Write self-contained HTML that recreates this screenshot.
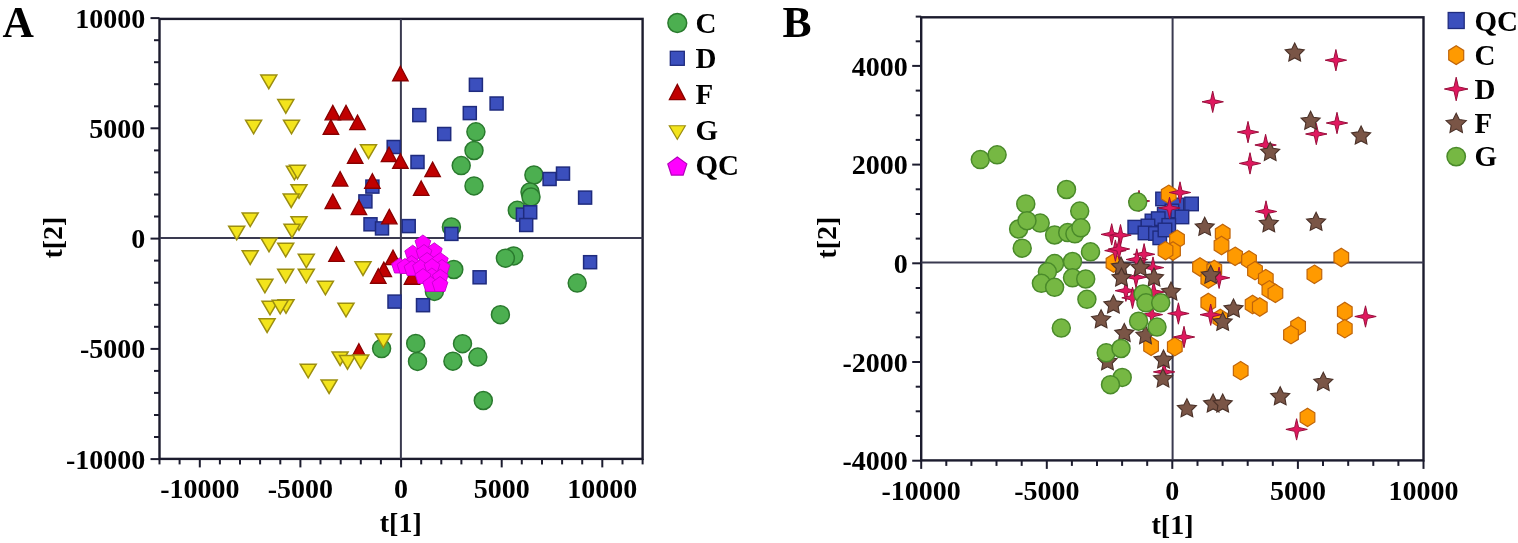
<!DOCTYPE html>
<html><head><meta charset="utf-8"><title>Score plots</title>
<style>html,body{margin:0;padding:0;background:#fff;}body{width:1518px;height:543px;overflow:hidden;}svg{display:block;}</style>
</head><body>
<svg width="1518" height="543" viewBox="0 0 1518 543">
<rect width="1518" height="543" fill="#fff"/>
<g stroke="#1c1c2e" fill="none" stroke-linecap="butt">
<rect x="159.5" y="18.9" width="483.1" height="440.0" stroke-width="2.4"/>
<line x1="400.9" y1="18.9" x2="400.9" y2="458.9" stroke-width="2" stroke="#3a3a50"/>
<line x1="159.5" y1="238.1" x2="642.6" y2="238.1" stroke-width="2" stroke="#3a3a50"/>
<line x1="159.5" y1="458.9" x2="159.5" y2="464.4" stroke-width="2"/>
<line x1="179.6" y1="458.9" x2="179.6" y2="464.4" stroke-width="2"/>
<line x1="199.8" y1="458.9" x2="199.8" y2="467.4" stroke-width="2"/>
<line x1="219.9" y1="458.9" x2="219.9" y2="464.4" stroke-width="2"/>
<line x1="240.0" y1="458.9" x2="240.0" y2="464.4" stroke-width="2"/>
<line x1="260.1" y1="458.9" x2="260.1" y2="464.4" stroke-width="2"/>
<line x1="280.3" y1="458.9" x2="280.3" y2="464.4" stroke-width="2"/>
<line x1="300.4" y1="458.9" x2="300.4" y2="467.4" stroke-width="2"/>
<line x1="320.5" y1="458.9" x2="320.5" y2="464.4" stroke-width="2"/>
<line x1="340.7" y1="458.9" x2="340.7" y2="464.4" stroke-width="2"/>
<line x1="360.8" y1="458.9" x2="360.8" y2="464.4" stroke-width="2"/>
<line x1="380.9" y1="458.9" x2="380.9" y2="464.4" stroke-width="2"/>
<line x1="401.1" y1="458.9" x2="401.1" y2="467.4" stroke-width="2"/>
<line x1="421.2" y1="458.9" x2="421.2" y2="464.4" stroke-width="2"/>
<line x1="441.3" y1="458.9" x2="441.3" y2="464.4" stroke-width="2"/>
<line x1="461.4" y1="458.9" x2="461.4" y2="464.4" stroke-width="2"/>
<line x1="481.6" y1="458.9" x2="481.6" y2="464.4" stroke-width="2"/>
<line x1="501.7" y1="458.9" x2="501.7" y2="467.4" stroke-width="2"/>
<line x1="521.8" y1="458.9" x2="521.8" y2="464.4" stroke-width="2"/>
<line x1="542.0" y1="458.9" x2="542.0" y2="464.4" stroke-width="2"/>
<line x1="562.1" y1="458.9" x2="562.1" y2="464.4" stroke-width="2"/>
<line x1="582.2" y1="458.9" x2="582.2" y2="464.4" stroke-width="2"/>
<line x1="602.3" y1="458.9" x2="602.3" y2="467.4" stroke-width="2"/>
<line x1="622.5" y1="458.9" x2="622.5" y2="464.4" stroke-width="2"/>
<line x1="642.6" y1="458.9" x2="642.6" y2="464.4" stroke-width="2"/>
<line x1="150.5" y1="459.1" x2="159.5" y2="459.1" stroke-width="2"/>
<line x1="154.0" y1="437.0" x2="159.5" y2="437.0" stroke-width="2"/>
<line x1="154.0" y1="415.0" x2="159.5" y2="415.0" stroke-width="2"/>
<line x1="154.0" y1="392.9" x2="159.5" y2="392.9" stroke-width="2"/>
<line x1="154.0" y1="370.9" x2="159.5" y2="370.9" stroke-width="2"/>
<line x1="150.5" y1="348.9" x2="159.5" y2="348.9" stroke-width="2"/>
<line x1="154.0" y1="326.8" x2="159.5" y2="326.8" stroke-width="2"/>
<line x1="154.0" y1="304.8" x2="159.5" y2="304.8" stroke-width="2"/>
<line x1="154.0" y1="282.7" x2="159.5" y2="282.7" stroke-width="2"/>
<line x1="154.0" y1="260.6" x2="159.5" y2="260.6" stroke-width="2"/>
<line x1="150.5" y1="238.6" x2="159.5" y2="238.6" stroke-width="2"/>
<line x1="154.0" y1="216.5" x2="159.5" y2="216.5" stroke-width="2"/>
<line x1="154.0" y1="194.5" x2="159.5" y2="194.5" stroke-width="2"/>
<line x1="154.0" y1="172.4" x2="159.5" y2="172.4" stroke-width="2"/>
<line x1="154.0" y1="150.4" x2="159.5" y2="150.4" stroke-width="2"/>
<line x1="150.5" y1="128.3" x2="159.5" y2="128.3" stroke-width="2"/>
<line x1="154.0" y1="106.3" x2="159.5" y2="106.3" stroke-width="2"/>
<line x1="154.0" y1="84.2" x2="159.5" y2="84.2" stroke-width="2"/>
<line x1="154.0" y1="62.2" x2="159.5" y2="62.2" stroke-width="2"/>
<line x1="154.0" y1="40.2" x2="159.5" y2="40.2" stroke-width="2"/>
<line x1="150.5" y1="18.1" x2="159.5" y2="18.1" stroke-width="2"/>
</g>
<text x="145.3" y="27.5" font-size="28" text-anchor="end" font-family="'Liberation Serif', 'Times New Roman', serif" font-weight="bold" fill="#000" >10000</text>
<text x="145.3" y="137.8" font-size="28" text-anchor="end" font-family="'Liberation Serif', 'Times New Roman', serif" font-weight="bold" fill="#000" >5000</text>
<text x="145.3" y="248.0" font-size="28" text-anchor="end" font-family="'Liberation Serif', 'Times New Roman', serif" font-weight="bold" fill="#000" >0</text>
<text x="145.3" y="358.2" font-size="28" text-anchor="end" font-family="'Liberation Serif', 'Times New Roman', serif" font-weight="bold" fill="#000" >-5000</text>
<text x="145.3" y="468.5" font-size="28" text-anchor="end" font-family="'Liberation Serif', 'Times New Roman', serif" font-weight="bold" fill="#000" >-10000</text>
<text x="199.8" y="497.5" font-size="28" text-anchor="middle" font-family="'Liberation Serif', 'Times New Roman', serif" font-weight="bold" fill="#000" >-10000</text>
<text x="300.4" y="497.5" font-size="28" text-anchor="middle" font-family="'Liberation Serif', 'Times New Roman', serif" font-weight="bold" fill="#000" >-5000</text>
<text x="401.1" y="497.5" font-size="28" text-anchor="middle" font-family="'Liberation Serif', 'Times New Roman', serif" font-weight="bold" fill="#000" >0</text>
<text x="501.7" y="497.5" font-size="28" text-anchor="middle" font-family="'Liberation Serif', 'Times New Roman', serif" font-weight="bold" fill="#000" >5000</text>
<text x="602.3" y="497.5" font-size="28" text-anchor="middle" font-family="'Liberation Serif', 'Times New Roman', serif" font-weight="bold" fill="#000" >10000</text>
<text x="400.8" y="532.0" font-size="28" text-anchor="middle" font-family="'Liberation Serif', 'Times New Roman', serif" font-weight="bold" fill="#000" >t[1]</text>
<text x="0" y="0" font-size="28" text-anchor="middle" font-family="'Liberation Serif', 'Times New Roman', serif" font-weight="bold" transform="translate(62,237.6) rotate(-90)">t[2]</text>
<text x="2.5" y="36.5" font-size="43.5" text-anchor="start" font-family="'Liberation Serif', 'Times New Roman', serif" font-weight="bold" fill="#000" >A</text>
<circle cx="475.9" cy="131.8" r="9.00" fill="#4caf50" stroke="#2a7a2e" stroke-width="1.5"/>
<circle cx="474.0" cy="150.5" r="9.00" fill="#4caf50" stroke="#2a7a2e" stroke-width="1.5"/>
<circle cx="461.2" cy="165.6" r="9.00" fill="#4caf50" stroke="#2a7a2e" stroke-width="1.5"/>
<circle cx="474.0" cy="185.9" r="9.00" fill="#4caf50" stroke="#2a7a2e" stroke-width="1.5"/>
<circle cx="533.9" cy="175.0" r="9.00" fill="#4caf50" stroke="#2a7a2e" stroke-width="1.5"/>
<circle cx="530.0" cy="192.0" r="9.00" fill="#4caf50" stroke="#2a7a2e" stroke-width="1.5"/>
<circle cx="531.0" cy="197.0" r="9.00" fill="#4caf50" stroke="#2a7a2e" stroke-width="1.5"/>
<circle cx="517.3" cy="210.3" r="9.00" fill="#4caf50" stroke="#2a7a2e" stroke-width="1.5"/>
<circle cx="451.4" cy="227.0" r="9.00" fill="#4caf50" stroke="#2a7a2e" stroke-width="1.5"/>
<circle cx="513.7" cy="255.9" r="9.00" fill="#4caf50" stroke="#2a7a2e" stroke-width="1.5"/>
<circle cx="505.4" cy="258.2" r="9.00" fill="#4caf50" stroke="#2a7a2e" stroke-width="1.5"/>
<circle cx="453.8" cy="269.5" r="9.00" fill="#4caf50" stroke="#2a7a2e" stroke-width="1.5"/>
<circle cx="434.4" cy="291.4" r="9.00" fill="#4caf50" stroke="#2a7a2e" stroke-width="1.5"/>
<circle cx="577.2" cy="283.1" r="9.00" fill="#4caf50" stroke="#2a7a2e" stroke-width="1.5"/>
<circle cx="500.4" cy="314.7" r="9.00" fill="#4caf50" stroke="#2a7a2e" stroke-width="1.5"/>
<circle cx="462.5" cy="343.7" r="9.00" fill="#4caf50" stroke="#2a7a2e" stroke-width="1.5"/>
<circle cx="452.9" cy="361.2" r="9.00" fill="#4caf50" stroke="#2a7a2e" stroke-width="1.5"/>
<circle cx="477.8" cy="357.1" r="9.00" fill="#4caf50" stroke="#2a7a2e" stroke-width="1.5"/>
<circle cx="483.3" cy="400.5" r="9.00" fill="#4caf50" stroke="#2a7a2e" stroke-width="1.5"/>
<circle cx="381.6" cy="348.6" r="9.00" fill="#4caf50" stroke="#2a7a2e" stroke-width="1.5"/>
<circle cx="415.7" cy="343.4" r="9.00" fill="#4caf50" stroke="#2a7a2e" stroke-width="1.5"/>
<circle cx="417.5" cy="361.4" r="9.00" fill="#4caf50" stroke="#2a7a2e" stroke-width="1.5"/>
<rect x="469.4" y="78.3" width="13.0" height="13.0" fill="#3b4fbd" stroke="#1f2b7e" stroke-width="1.5"/>
<rect x="490.1" y="97.0" width="13.0" height="13.0" fill="#3b4fbd" stroke="#1f2b7e" stroke-width="1.5"/>
<rect x="463.3" y="106.6" width="13.0" height="13.0" fill="#3b4fbd" stroke="#1f2b7e" stroke-width="1.5"/>
<rect x="412.8" y="108.6" width="13.0" height="13.0" fill="#3b4fbd" stroke="#1f2b7e" stroke-width="1.5"/>
<rect x="437.7" y="127.5" width="13.0" height="13.0" fill="#3b4fbd" stroke="#1f2b7e" stroke-width="1.5"/>
<rect x="387.2" y="140.5" width="13.0" height="13.0" fill="#3b4fbd" stroke="#1f2b7e" stroke-width="1.5"/>
<rect x="411.0" y="155.5" width="13.0" height="13.0" fill="#3b4fbd" stroke="#1f2b7e" stroke-width="1.5"/>
<rect x="365.9" y="180.1" width="13.0" height="13.0" fill="#3b4fbd" stroke="#1f2b7e" stroke-width="1.5"/>
<rect x="358.9" y="194.9" width="13.0" height="13.0" fill="#3b4fbd" stroke="#1f2b7e" stroke-width="1.5"/>
<rect x="364.0" y="217.8" width="13.0" height="13.0" fill="#3b4fbd" stroke="#1f2b7e" stroke-width="1.5"/>
<rect x="375.5" y="221.9" width="13.0" height="13.0" fill="#3b4fbd" stroke="#1f2b7e" stroke-width="1.5"/>
<rect x="402.2" y="219.6" width="13.0" height="13.0" fill="#3b4fbd" stroke="#1f2b7e" stroke-width="1.5"/>
<rect x="444.9" y="227.4" width="13.0" height="13.0" fill="#3b4fbd" stroke="#1f2b7e" stroke-width="1.5"/>
<rect x="543.1" y="172.5" width="13.0" height="13.0" fill="#3b4fbd" stroke="#1f2b7e" stroke-width="1.5"/>
<rect x="556.5" y="167.1" width="13.0" height="13.0" fill="#3b4fbd" stroke="#1f2b7e" stroke-width="1.5"/>
<rect x="578.6" y="191.1" width="13.0" height="13.0" fill="#3b4fbd" stroke="#1f2b7e" stroke-width="1.5"/>
<rect x="516.4" y="208.1" width="13.0" height="13.0" fill="#3b4fbd" stroke="#1f2b7e" stroke-width="1.5"/>
<rect x="523.7" y="205.8" width="13.0" height="13.0" fill="#3b4fbd" stroke="#1f2b7e" stroke-width="1.5"/>
<rect x="519.7" y="218.5" width="13.0" height="13.0" fill="#3b4fbd" stroke="#1f2b7e" stroke-width="1.5"/>
<rect x="583.6" y="255.7" width="13.0" height="13.0" fill="#3b4fbd" stroke="#1f2b7e" stroke-width="1.5"/>
<rect x="473.1" y="270.8" width="13.0" height="13.0" fill="#3b4fbd" stroke="#1f2b7e" stroke-width="1.5"/>
<rect x="388.0" y="295.1" width="13.0" height="13.0" fill="#3b4fbd" stroke="#1f2b7e" stroke-width="1.5"/>
<rect x="416.5" y="298.7" width="13.0" height="13.0" fill="#3b4fbd" stroke="#1f2b7e" stroke-width="1.5"/>
<polygon points="400.40,66.25 408.15,80.75 392.65,80.75" fill="#c00000" stroke="#880000" stroke-width="1.3" stroke-linejoin="miter" />
<polygon points="332.80,105.35 340.55,119.85 325.05,119.85" fill="#c00000" stroke="#880000" stroke-width="1.3" stroke-linejoin="miter" />
<polygon points="346.00,105.35 353.75,119.85 338.25,119.85" fill="#c00000" stroke="#880000" stroke-width="1.3" stroke-linejoin="miter" />
<polygon points="357.50,115.05 365.25,129.55 349.75,129.55" fill="#c00000" stroke="#880000" stroke-width="1.3" stroke-linejoin="miter" />
<polygon points="330.90,119.75 338.65,134.25 323.15,134.25" fill="#c00000" stroke="#880000" stroke-width="1.3" stroke-linejoin="miter" />
<polygon points="355.20,148.75 362.95,163.25 347.45,163.25" fill="#c00000" stroke="#880000" stroke-width="1.3" stroke-linejoin="miter" />
<polygon points="389.00,147.15 396.75,161.65 381.25,161.65" fill="#c00000" stroke="#880000" stroke-width="1.3" stroke-linejoin="miter" />
<polygon points="400.40,153.75 408.15,168.25 392.65,168.25" fill="#c00000" stroke="#880000" stroke-width="1.3" stroke-linejoin="miter" />
<polygon points="432.60,162.15 440.35,176.65 424.85,176.65" fill="#c00000" stroke="#880000" stroke-width="1.3" stroke-linejoin="miter" />
<polygon points="340.10,171.55 347.85,186.05 332.35,186.05" fill="#c00000" stroke="#880000" stroke-width="1.3" stroke-linejoin="miter" />
<polygon points="372.40,173.75 380.15,188.25 364.65,188.25" fill="#c00000" stroke="#880000" stroke-width="1.3" stroke-linejoin="miter" />
<polygon points="421.20,180.95 428.95,195.45 413.45,195.45" fill="#c00000" stroke="#880000" stroke-width="1.3" stroke-linejoin="miter" />
<polygon points="332.80,194.05 340.55,208.55 325.05,208.55" fill="#c00000" stroke="#880000" stroke-width="1.3" stroke-linejoin="miter" />
<polygon points="358.90,200.15 366.65,214.65 351.15,214.65" fill="#c00000" stroke="#880000" stroke-width="1.3" stroke-linejoin="miter" />
<polygon points="389.30,209.35 397.05,223.85 381.55,223.85" fill="#c00000" stroke="#880000" stroke-width="1.3" stroke-linejoin="miter" />
<polygon points="336.50,246.95 344.25,261.45 328.75,261.45" fill="#c00000" stroke="#880000" stroke-width="1.3" stroke-linejoin="miter" />
<polygon points="393.00,250.15 400.75,264.65 385.25,264.65" fill="#c00000" stroke="#880000" stroke-width="1.3" stroke-linejoin="miter" />
<polygon points="383.80,262.15 391.55,276.65 376.05,276.65" fill="#c00000" stroke="#880000" stroke-width="1.3" stroke-linejoin="miter" />
<polygon points="378.30,268.75 386.05,283.25 370.55,283.25" fill="#c00000" stroke="#880000" stroke-width="1.3" stroke-linejoin="miter" />
<polygon points="412.00,269.75 419.75,284.25 404.25,284.25" fill="#c00000" stroke="#880000" stroke-width="1.3" stroke-linejoin="miter" />
<polygon points="358.90,343.75 366.65,358.25 351.15,358.25" fill="#c00000" stroke="#880000" stroke-width="1.3" stroke-linejoin="miter" />
<polygon points="260.80,75.10 276.80,75.10 268.80,88.70" fill="#f3e41c" stroke="#9c8e10" stroke-width="1.5" stroke-linejoin="miter" />
<polygon points="277.80,99.60 293.80,99.60 285.80,113.20" fill="#f3e41c" stroke="#9c8e10" stroke-width="1.5" stroke-linejoin="miter" />
<polygon points="245.60,120.20 261.60,120.20 253.60,133.80" fill="#f3e41c" stroke="#9c8e10" stroke-width="1.5" stroke-linejoin="miter" />
<polygon points="283.50,120.20 299.50,120.20 291.50,133.80" fill="#f3e41c" stroke="#9c8e10" stroke-width="1.5" stroke-linejoin="miter" />
<polygon points="286.40,166.20 302.40,166.20 294.40,179.80" fill="#f3e41c" stroke="#9c8e10" stroke-width="1.5" stroke-linejoin="miter" />
<polygon points="289.50,165.20 305.50,165.20 297.50,178.80" fill="#f3e41c" stroke="#9c8e10" stroke-width="1.5" stroke-linejoin="miter" />
<polygon points="291.00,184.70 307.00,184.70 299.00,198.30" fill="#f3e41c" stroke="#9c8e10" stroke-width="1.5" stroke-linejoin="miter" />
<polygon points="283.20,193.90 299.20,193.90 291.20,207.50" fill="#f3e41c" stroke="#9c8e10" stroke-width="1.5" stroke-linejoin="miter" />
<polygon points="242.20,213.00 258.20,213.00 250.20,226.60" fill="#f3e41c" stroke="#9c8e10" stroke-width="1.5" stroke-linejoin="miter" />
<polygon points="291.00,216.70 307.00,216.70 299.00,230.30" fill="#f3e41c" stroke="#9c8e10" stroke-width="1.5" stroke-linejoin="miter" />
<polygon points="284.00,224.20 300.00,224.20 292.00,237.80" fill="#f3e41c" stroke="#9c8e10" stroke-width="1.5" stroke-linejoin="miter" />
<polygon points="228.70,226.20 244.70,226.20 236.70,239.80" fill="#f3e41c" stroke="#9c8e10" stroke-width="1.5" stroke-linejoin="miter" />
<polygon points="261.00,238.20 277.00,238.20 269.00,251.80" fill="#f3e41c" stroke="#9c8e10" stroke-width="1.5" stroke-linejoin="miter" />
<polygon points="277.70,243.20 293.70,243.20 285.70,256.80" fill="#f3e41c" stroke="#9c8e10" stroke-width="1.5" stroke-linejoin="miter" />
<polygon points="242.20,250.80 258.20,250.80 250.20,264.40" fill="#f3e41c" stroke="#9c8e10" stroke-width="1.5" stroke-linejoin="miter" />
<polygon points="298.30,254.20 314.30,254.20 306.30,267.80" fill="#f3e41c" stroke="#9c8e10" stroke-width="1.5" stroke-linejoin="miter" />
<polygon points="277.70,269.20 293.70,269.20 285.70,282.80" fill="#f3e41c" stroke="#9c8e10" stroke-width="1.5" stroke-linejoin="miter" />
<polygon points="298.30,269.20 314.30,269.20 306.30,282.80" fill="#f3e41c" stroke="#9c8e10" stroke-width="1.5" stroke-linejoin="miter" />
<polygon points="256.90,279.20 272.90,279.20 264.90,292.80" fill="#f3e41c" stroke="#9c8e10" stroke-width="1.5" stroke-linejoin="miter" />
<polygon points="317.40,281.20 333.40,281.20 325.40,294.80" fill="#f3e41c" stroke="#9c8e10" stroke-width="1.5" stroke-linejoin="miter" />
<polygon points="262.00,301.20 278.00,301.20 270.00,314.80" fill="#f3e41c" stroke="#9c8e10" stroke-width="1.5" stroke-linejoin="miter" />
<polygon points="278.00,299.70 294.00,299.70 286.00,313.30" fill="#f3e41c" stroke="#9c8e10" stroke-width="1.5" stroke-linejoin="miter" />
<polygon points="272.20,300.20 288.20,300.20 280.20,313.80" fill="#f3e41c" stroke="#9c8e10" stroke-width="1.5" stroke-linejoin="miter" />
<polygon points="259.10,318.80 275.10,318.80 267.10,332.40" fill="#f3e41c" stroke="#9c8e10" stroke-width="1.5" stroke-linejoin="miter" />
<polygon points="300.20,364.20 316.20,364.20 308.20,377.80" fill="#f3e41c" stroke="#9c8e10" stroke-width="1.5" stroke-linejoin="miter" />
<polygon points="360.50,144.80 376.50,144.80 368.50,158.40" fill="#f3e41c" stroke="#9c8e10" stroke-width="1.5" stroke-linejoin="miter" />
<polygon points="355.00,261.80 371.00,261.80 363.00,275.40" fill="#f3e41c" stroke="#9c8e10" stroke-width="1.5" stroke-linejoin="miter" />
<polygon points="338.00,303.20 354.00,303.20 346.00,316.80" fill="#f3e41c" stroke="#9c8e10" stroke-width="1.5" stroke-linejoin="miter" />
<polygon points="375.40,334.00 391.40,334.00 383.40,347.60" fill="#f3e41c" stroke="#9c8e10" stroke-width="1.5" stroke-linejoin="miter" />
<polygon points="332.10,351.90 348.10,351.90 340.10,365.50" fill="#f3e41c" stroke="#9c8e10" stroke-width="1.5" stroke-linejoin="miter" />
<polygon points="339.50,355.60 355.50,355.60 347.50,369.20" fill="#f3e41c" stroke="#9c8e10" stroke-width="1.5" stroke-linejoin="miter" />
<polygon points="352.80,355.00 368.80,355.00 360.80,368.60" fill="#f3e41c" stroke="#9c8e10" stroke-width="1.5" stroke-linejoin="miter" />
<polygon points="321.10,379.90 337.10,379.90 329.10,393.50" fill="#f3e41c" stroke="#9c8e10" stroke-width="1.5" stroke-linejoin="miter" />
<polygon points="422.90,234.99 430.79,240.73 427.78,250.01 418.02,250.01 415.01,240.73" fill="#ff00ff" stroke="#c400cc" stroke-width="0.9" stroke-linejoin="miter" />
<polygon points="412.70,245.19 420.59,250.93 417.58,260.21 407.82,260.21 404.81,250.93" fill="#ff00ff" stroke="#c400cc" stroke-width="0.9" stroke-linejoin="miter" />
<polygon points="434.30,242.79 442.19,248.53 439.18,257.81 429.42,257.81 426.41,248.53" fill="#ff00ff" stroke="#c400cc" stroke-width="0.9" stroke-linejoin="miter" />
<polygon points="424.00,244.49 431.89,250.23 428.88,259.51 419.12,259.51 416.11,250.23" fill="#ff00ff" stroke="#c400cc" stroke-width="0.9" stroke-linejoin="miter" />
<polygon points="427.10,252.49 434.99,258.23 431.98,267.51 422.22,267.51 419.21,258.23" fill="#ff00ff" stroke="#c400cc" stroke-width="0.9" stroke-linejoin="miter" />
<polygon points="440.30,252.49 448.19,258.23 445.18,267.51 435.42,267.51 432.41,258.23" fill="#ff00ff" stroke="#c400cc" stroke-width="0.9" stroke-linejoin="miter" />
<polygon points="411.50,255.49 419.39,261.23 416.38,270.51 406.62,270.51 403.61,261.23" fill="#ff00ff" stroke="#c400cc" stroke-width="0.9" stroke-linejoin="miter" />
<polygon points="399.50,257.99 407.39,263.73 404.38,273.01 394.62,273.01 391.61,263.73" fill="#ff00ff" stroke="#c400cc" stroke-width="0.9" stroke-linejoin="miter" />
<polygon points="405.00,258.49 412.89,264.23 409.88,273.51 400.12,273.51 397.11,264.23" fill="#ff00ff" stroke="#c400cc" stroke-width="0.9" stroke-linejoin="miter" />
<polygon points="412.00,260.49 419.89,266.23 416.88,275.51 407.12,275.51 404.11,266.23" fill="#ff00ff" stroke="#c400cc" stroke-width="0.9" stroke-linejoin="miter" />
<polygon points="420.50,259.59 428.39,265.33 425.38,274.61 415.62,274.61 412.61,265.33" fill="#ff00ff" stroke="#c400cc" stroke-width="0.9" stroke-linejoin="miter" />
<polygon points="442.00,259.49 449.89,265.23 446.88,274.51 437.12,274.51 434.11,265.23" fill="#ff00ff" stroke="#c400cc" stroke-width="0.9" stroke-linejoin="miter" />
<polygon points="432.00,258.49 439.89,264.23 436.88,273.51 427.12,273.51 424.11,264.23" fill="#ff00ff" stroke="#c400cc" stroke-width="0.9" stroke-linejoin="miter" />
<polygon points="431.90,267.99 439.79,273.73 436.78,283.01 427.02,283.01 424.01,273.73" fill="#ff00ff" stroke="#c400cc" stroke-width="0.9" stroke-linejoin="miter" />
<polygon points="440.30,269.19 448.19,274.93 445.18,284.21 435.42,284.21 432.41,274.93" fill="#ff00ff" stroke="#c400cc" stroke-width="0.9" stroke-linejoin="miter" />
<polygon points="423.00,268.49 430.89,274.23 427.88,283.51 418.12,283.51 415.11,274.23" fill="#ff00ff" stroke="#c400cc" stroke-width="0.9" stroke-linejoin="miter" />
<polygon points="430.70,276.39 438.59,282.13 435.58,291.41 425.82,291.41 422.81,282.13" fill="#ff00ff" stroke="#c400cc" stroke-width="0.9" stroke-linejoin="miter" />
<polygon points="440.00,276.49 447.89,282.23 444.88,291.51 435.12,291.51 432.11,282.23" fill="#ff00ff" stroke="#c400cc" stroke-width="0.9" stroke-linejoin="miter" />
<circle cx="677.3" cy="23.0" r="9.40" fill="#4caf50" stroke="#2a7a2e" stroke-width="1.5"/>
<rect x="670.3" y="51.3" width="14.0" height="14.0" fill="#3b4fbd" stroke="#1f2b7e" stroke-width="1.3"/>
<polygon points="677.30,84.40 685.20,99.60 669.40,99.60" fill="#c00000" stroke="#880000" stroke-width="1.3" stroke-linejoin="miter" />
<polygon points="669.30,125.75 685.30,125.75 677.30,139.25" fill="#f3e41c" stroke="#9c8e10" stroke-width="1.2" stroke-linejoin="miter" />
<polygon points="677.30,156.96 686.81,163.86 683.18,175.05 671.42,175.05 667.79,163.86" fill="#ff00ff" stroke="#b400bc" stroke-width="1.2" stroke-linejoin="miter" />
<text x="695.5" y="32.8" font-size="29" text-anchor="start" font-family="'Liberation Serif', 'Times New Roman', serif" font-weight="bold" fill="#000" >C</text>
<text x="695.5" y="68.1" font-size="29" text-anchor="start" font-family="'Liberation Serif', 'Times New Roman', serif" font-weight="bold" fill="#000" >D</text>
<text x="695.5" y="103.8" font-size="29" text-anchor="start" font-family="'Liberation Serif', 'Times New Roman', serif" font-weight="bold" fill="#000" >F</text>
<text x="695.5" y="140.4" font-size="29" text-anchor="start" font-family="'Liberation Serif', 'Times New Roman', serif" font-weight="bold" fill="#000" >G</text>
<text x="695.5" y="175.4" font-size="29" text-anchor="start" font-family="'Liberation Serif', 'Times New Roman', serif" font-weight="bold" fill="#000" >QC</text>
<g stroke="#1c1c2e" fill="none" stroke-linecap="butt">
<rect x="921.2" y="17.3" width="502.3" height="443.1" stroke-width="2.4"/>
<line x1="1172.6" y1="17.3" x2="1172.6" y2="460.4" stroke-width="2" stroke="#3a3a50"/>
<line x1="921.2" y1="262.5" x2="1423.5" y2="262.5" stroke-width="2" stroke="#3a3a50"/>
<line x1="921.2" y1="460.4" x2="921.2" y2="468.9" stroke-width="2"/>
<line x1="946.3" y1="460.4" x2="946.3" y2="465.9" stroke-width="2"/>
<line x1="971.4" y1="460.4" x2="971.4" y2="465.9" stroke-width="2"/>
<line x1="996.5" y1="460.4" x2="996.5" y2="465.9" stroke-width="2"/>
<line x1="1021.7" y1="460.4" x2="1021.7" y2="465.9" stroke-width="2"/>
<line x1="1046.8" y1="460.4" x2="1046.8" y2="468.9" stroke-width="2"/>
<line x1="1071.9" y1="460.4" x2="1071.9" y2="465.9" stroke-width="2"/>
<line x1="1097.0" y1="460.4" x2="1097.0" y2="465.9" stroke-width="2"/>
<line x1="1122.1" y1="460.4" x2="1122.1" y2="465.9" stroke-width="2"/>
<line x1="1147.2" y1="460.4" x2="1147.2" y2="465.9" stroke-width="2"/>
<line x1="1172.3" y1="460.4" x2="1172.3" y2="468.9" stroke-width="2"/>
<line x1="1197.5" y1="460.4" x2="1197.5" y2="465.9" stroke-width="2"/>
<line x1="1222.6" y1="460.4" x2="1222.6" y2="465.9" stroke-width="2"/>
<line x1="1247.7" y1="460.4" x2="1247.7" y2="465.9" stroke-width="2"/>
<line x1="1272.8" y1="460.4" x2="1272.8" y2="465.9" stroke-width="2"/>
<line x1="1297.9" y1="460.4" x2="1297.9" y2="468.9" stroke-width="2"/>
<line x1="1323.0" y1="460.4" x2="1323.0" y2="465.9" stroke-width="2"/>
<line x1="1348.2" y1="460.4" x2="1348.2" y2="465.9" stroke-width="2"/>
<line x1="1373.3" y1="460.4" x2="1373.3" y2="465.9" stroke-width="2"/>
<line x1="1398.4" y1="460.4" x2="1398.4" y2="465.9" stroke-width="2"/>
<line x1="1423.5" y1="460.4" x2="1423.5" y2="468.9" stroke-width="2"/>
<line x1="912.2" y1="460.7" x2="921.2" y2="460.7" stroke-width="2"/>
<line x1="915.7" y1="436.0" x2="921.2" y2="436.0" stroke-width="2"/>
<line x1="915.7" y1="411.3" x2="921.2" y2="411.3" stroke-width="2"/>
<line x1="915.7" y1="386.7" x2="921.2" y2="386.7" stroke-width="2"/>
<line x1="912.2" y1="362.0" x2="921.2" y2="362.0" stroke-width="2"/>
<line x1="915.7" y1="337.3" x2="921.2" y2="337.3" stroke-width="2"/>
<line x1="915.7" y1="312.6" x2="921.2" y2="312.6" stroke-width="2"/>
<line x1="915.7" y1="288.0" x2="921.2" y2="288.0" stroke-width="2"/>
<line x1="912.2" y1="263.3" x2="921.2" y2="263.3" stroke-width="2"/>
<line x1="915.7" y1="238.6" x2="921.2" y2="238.6" stroke-width="2"/>
<line x1="915.7" y1="214.0" x2="921.2" y2="214.0" stroke-width="2"/>
<line x1="915.7" y1="189.3" x2="921.2" y2="189.3" stroke-width="2"/>
<line x1="912.2" y1="164.6" x2="921.2" y2="164.6" stroke-width="2"/>
<line x1="915.7" y1="139.9" x2="921.2" y2="139.9" stroke-width="2"/>
<line x1="915.7" y1="115.3" x2="921.2" y2="115.3" stroke-width="2"/>
<line x1="915.7" y1="90.6" x2="921.2" y2="90.6" stroke-width="2"/>
<line x1="912.2" y1="65.9" x2="921.2" y2="65.9" stroke-width="2"/>
<line x1="915.7" y1="41.3" x2="921.2" y2="41.3" stroke-width="2"/>
<line x1="915.7" y1="16.6" x2="921.2" y2="16.6" stroke-width="2"/>
</g>
<text x="907.8" y="75.5" font-size="28" text-anchor="end" font-family="'Liberation Serif', 'Times New Roman', serif" font-weight="bold" fill="#000" >4000</text>
<text x="907.8" y="174.2" font-size="28" text-anchor="end" font-family="'Liberation Serif', 'Times New Roman', serif" font-weight="bold" fill="#000" >2000</text>
<text x="907.8" y="272.9" font-size="28" text-anchor="end" font-family="'Liberation Serif', 'Times New Roman', serif" font-weight="bold" fill="#000" >0</text>
<text x="907.8" y="371.6" font-size="28" text-anchor="end" font-family="'Liberation Serif', 'Times New Roman', serif" font-weight="bold" fill="#000" >-2000</text>
<text x="907.8" y="470.3" font-size="28" text-anchor="end" font-family="'Liberation Serif', 'Times New Roman', serif" font-weight="bold" fill="#000" >-4000</text>
<text x="921.2" y="499.5" font-size="28" text-anchor="middle" font-family="'Liberation Serif', 'Times New Roman', serif" font-weight="bold" fill="#000" >-10000</text>
<text x="1046.8" y="499.5" font-size="28" text-anchor="middle" font-family="'Liberation Serif', 'Times New Roman', serif" font-weight="bold" fill="#000" >-5000</text>
<text x="1172.3" y="499.5" font-size="28" text-anchor="middle" font-family="'Liberation Serif', 'Times New Roman', serif" font-weight="bold" fill="#000" >0</text>
<text x="1297.9" y="499.5" font-size="28" text-anchor="middle" font-family="'Liberation Serif', 'Times New Roman', serif" font-weight="bold" fill="#000" >5000</text>
<text x="1423.5" y="499.5" font-size="28" text-anchor="middle" font-family="'Liberation Serif', 'Times New Roman', serif" font-weight="bold" fill="#000" >10000</text>
<text x="1172.5" y="533.5" font-size="28" text-anchor="middle" font-family="'Liberation Serif', 'Times New Roman', serif" font-weight="bold" fill="#000" >t[1]</text>
<text x="0" y="0" font-size="28" text-anchor="middle" font-family="'Liberation Serif', 'Times New Roman', serif" font-weight="bold" transform="translate(835.6,237.7) rotate(-90)">t[2]</text>
<text x="782.5" y="36.5" font-size="43.5" text-anchor="start" font-family="'Liberation Serif', 'Times New Roman', serif" font-weight="bold" fill="#000" >B</text>
<rect x="1155.8" y="192.2" width="13.5" height="13.5" fill="#3b4fbd" stroke="#1f2b7e" stroke-width="1.4"/>
<rect x="1170.2" y="198.2" width="13.5" height="13.5" fill="#3b4fbd" stroke="#1f2b7e" stroke-width="1.4"/>
<rect x="1184.8" y="197.2" width="13.5" height="13.5" fill="#3b4fbd" stroke="#1f2b7e" stroke-width="1.4"/>
<rect x="1165.2" y="204.2" width="13.5" height="13.5" fill="#3b4fbd" stroke="#1f2b7e" stroke-width="1.4"/>
<rect x="1157.5" y="207.4" width="13.5" height="13.5" fill="#3b4fbd" stroke="#1f2b7e" stroke-width="1.4"/>
<rect x="1175.2" y="210.2" width="13.5" height="13.5" fill="#3b4fbd" stroke="#1f2b7e" stroke-width="1.4"/>
<rect x="1145.2" y="214.2" width="13.5" height="13.5" fill="#3b4fbd" stroke="#1f2b7e" stroke-width="1.4"/>
<rect x="1151.5" y="211.9" width="13.5" height="13.5" fill="#3b4fbd" stroke="#1f2b7e" stroke-width="1.4"/>
<rect x="1128.0" y="220.4" width="13.5" height="13.5" fill="#3b4fbd" stroke="#1f2b7e" stroke-width="1.4"/>
<rect x="1141.2" y="219.2" width="13.5" height="13.5" fill="#3b4fbd" stroke="#1f2b7e" stroke-width="1.4"/>
<rect x="1162.0" y="218.6" width="13.5" height="13.5" fill="#3b4fbd" stroke="#1f2b7e" stroke-width="1.4"/>
<rect x="1138.2" y="226.2" width="13.5" height="13.5" fill="#3b4fbd" stroke="#1f2b7e" stroke-width="1.4"/>
<rect x="1148.7" y="226.7" width="13.5" height="13.5" fill="#3b4fbd" stroke="#1f2b7e" stroke-width="1.4"/>
<rect x="1153.0" y="231.1" width="13.5" height="13.5" fill="#3b4fbd" stroke="#1f2b7e" stroke-width="1.4"/>
<rect x="1158.2" y="223.2" width="13.5" height="13.5" fill="#3b4fbd" stroke="#1f2b7e" stroke-width="1.4"/>
<polygon points="1168.70,185.10 1176.03,189.70 1176.03,198.90 1168.70,203.50 1161.37,198.90 1161.37,189.70" fill="#ff9a00" stroke="#c0650a" stroke-width="1.2" stroke-linejoin="miter" />
<polygon points="1222.70,224.30 1230.03,228.90 1230.03,238.10 1222.70,242.70 1215.37,238.10 1215.37,228.90" fill="#ff9a00" stroke="#c0650a" stroke-width="1.2" stroke-linejoin="miter" />
<polygon points="1221.50,236.30 1228.83,240.90 1228.83,250.10 1221.50,254.70 1214.17,250.10 1214.17,240.90" fill="#ff9a00" stroke="#c0650a" stroke-width="1.2" stroke-linejoin="miter" />
<polygon points="1177.00,230.10 1184.33,234.70 1184.33,243.90 1177.00,248.50 1169.67,243.90 1169.67,234.70" fill="#ff9a00" stroke="#c0650a" stroke-width="1.2" stroke-linejoin="miter" />
<polygon points="1173.00,241.80 1180.33,246.40 1180.33,255.60 1173.00,260.20 1165.67,255.60 1165.67,246.40" fill="#ff9a00" stroke="#c0650a" stroke-width="1.2" stroke-linejoin="miter" />
<polygon points="1165.50,241.40 1172.83,246.00 1172.83,255.20 1165.50,259.80 1158.17,255.20 1158.17,246.00" fill="#ff9a00" stroke="#c0650a" stroke-width="1.2" stroke-linejoin="miter" />
<polygon points="1235.10,247.10 1242.43,251.70 1242.43,260.90 1235.10,265.50 1227.77,260.90 1227.77,251.70" fill="#ff9a00" stroke="#c0650a" stroke-width="1.2" stroke-linejoin="miter" />
<polygon points="1249.00,250.70 1256.33,255.30 1256.33,264.50 1249.00,269.10 1241.67,264.50 1241.67,255.30" fill="#ff9a00" stroke="#c0650a" stroke-width="1.2" stroke-linejoin="miter" />
<polygon points="1255.00,261.50 1262.33,266.10 1262.33,275.30 1255.00,279.90 1247.67,275.30 1247.67,266.10" fill="#ff9a00" stroke="#c0650a" stroke-width="1.2" stroke-linejoin="miter" />
<polygon points="1265.80,269.40 1273.13,274.00 1273.13,283.20 1265.80,287.80 1258.47,283.20 1258.47,274.00" fill="#ff9a00" stroke="#c0650a" stroke-width="1.2" stroke-linejoin="miter" />
<polygon points="1269.40,280.60 1276.73,285.20 1276.73,294.40 1269.40,299.00 1262.07,294.40 1262.07,285.20" fill="#ff9a00" stroke="#c0650a" stroke-width="1.2" stroke-linejoin="miter" />
<polygon points="1275.40,284.20 1282.73,288.80 1282.73,298.00 1275.40,302.60 1268.07,298.00 1268.07,288.80" fill="#ff9a00" stroke="#c0650a" stroke-width="1.2" stroke-linejoin="miter" />
<polygon points="1200.00,257.80 1207.33,262.40 1207.33,271.60 1200.00,276.20 1192.67,271.60 1192.67,262.40" fill="#ff9a00" stroke="#c0650a" stroke-width="1.2" stroke-linejoin="miter" />
<polygon points="1214.30,260.30 1221.63,264.90 1221.63,274.10 1214.30,278.70 1206.97,274.10 1206.97,264.90" fill="#ff9a00" stroke="#c0650a" stroke-width="1.2" stroke-linejoin="miter" />
<polygon points="1208.30,269.80 1215.63,274.40 1215.63,283.60 1208.30,288.20 1200.97,283.60 1200.97,274.40" fill="#ff9a00" stroke="#c0650a" stroke-width="1.2" stroke-linejoin="miter" />
<polygon points="1341.30,248.30 1348.63,252.90 1348.63,262.10 1341.30,266.70 1333.97,262.10 1333.97,252.90" fill="#ff9a00" stroke="#c0650a" stroke-width="1.2" stroke-linejoin="miter" />
<polygon points="1314.40,265.10 1321.73,269.70 1321.73,278.90 1314.40,283.50 1307.07,278.90 1307.07,269.70" fill="#ff9a00" stroke="#c0650a" stroke-width="1.2" stroke-linejoin="miter" />
<polygon points="1208.30,293.30 1215.63,297.90 1215.63,307.10 1208.30,311.70 1200.97,307.10 1200.97,297.90" fill="#ff9a00" stroke="#c0650a" stroke-width="1.2" stroke-linejoin="miter" />
<polygon points="1252.60,295.30 1259.93,299.90 1259.93,309.10 1252.60,313.70 1245.27,309.10 1245.27,299.90" fill="#ff9a00" stroke="#c0650a" stroke-width="1.2" stroke-linejoin="miter" />
<polygon points="1259.80,297.80 1267.13,302.40 1267.13,311.60 1259.80,316.20 1252.47,311.60 1252.47,302.40" fill="#ff9a00" stroke="#c0650a" stroke-width="1.2" stroke-linejoin="miter" />
<polygon points="1344.80,302.30 1352.13,306.90 1352.13,316.10 1344.80,320.70 1337.47,316.10 1337.47,306.90" fill="#ff9a00" stroke="#c0650a" stroke-width="1.2" stroke-linejoin="miter" />
<polygon points="1344.80,319.50 1352.13,324.10 1352.13,333.30 1344.80,337.90 1337.47,333.30 1337.47,324.10" fill="#ff9a00" stroke="#c0650a" stroke-width="1.2" stroke-linejoin="miter" />
<polygon points="1298.10,317.10 1305.43,321.70 1305.43,330.90 1298.10,335.50 1290.77,330.90 1290.77,321.70" fill="#ff9a00" stroke="#c0650a" stroke-width="1.2" stroke-linejoin="miter" />
<polygon points="1220.30,309.30 1227.63,313.90 1227.63,323.10 1220.30,327.70 1212.97,323.10 1212.97,313.90" fill="#ff9a00" stroke="#c0650a" stroke-width="1.2" stroke-linejoin="miter" />
<polygon points="1113.50,253.80 1120.83,258.40 1120.83,267.60 1113.50,272.20 1106.17,267.60 1106.17,258.40" fill="#ff9a00" stroke="#c0650a" stroke-width="1.2" stroke-linejoin="miter" />
<polygon points="1291.00,325.50 1298.33,330.10 1298.33,339.30 1291.00,343.90 1283.67,339.30 1283.67,330.10" fill="#ff9a00" stroke="#c0650a" stroke-width="1.2" stroke-linejoin="miter" />
<polygon points="1174.80,337.50 1182.13,342.10 1182.13,351.30 1174.80,355.90 1167.47,351.30 1167.47,342.10" fill="#ff9a00" stroke="#c0650a" stroke-width="1.2" stroke-linejoin="miter" />
<polygon points="1151.10,337.10 1158.43,341.70 1158.43,350.90 1151.10,355.50 1143.77,350.90 1143.77,341.70" fill="#ff9a00" stroke="#c0650a" stroke-width="1.2" stroke-linejoin="miter" />
<polygon points="1240.70,361.50 1248.03,366.10 1248.03,375.30 1240.70,379.90 1233.37,375.30 1233.37,366.10" fill="#ff9a00" stroke="#c0650a" stroke-width="1.2" stroke-linejoin="miter" />
<polygon points="1307.50,408.20 1314.83,412.80 1314.83,422.00 1307.50,426.60 1300.17,422.00 1300.17,412.80" fill="#ff9a00" stroke="#c0650a" stroke-width="1.2" stroke-linejoin="miter" />
<polygon points="1139.00,190.30 1140.97,199.03 1149.70,201.00 1140.97,202.97 1139.00,211.70 1137.03,202.97 1128.30,201.00 1137.03,199.03" fill="#e0185f" stroke="#9a0f3c" stroke-width="1.0" stroke-linejoin="miter" />
<polygon points="1212.70,91.10 1214.67,99.83 1223.40,101.80 1214.67,103.77 1212.70,112.50 1210.73,103.77 1202.00,101.80 1210.73,99.83" fill="#e0185f" stroke="#9a0f3c" stroke-width="1.0" stroke-linejoin="miter" />
<polygon points="1335.90,49.50 1337.87,58.23 1346.60,60.20 1337.87,62.17 1335.90,70.90 1333.93,62.17 1325.20,60.20 1333.93,58.23" fill="#e0185f" stroke="#9a0f3c" stroke-width="1.0" stroke-linejoin="miter" />
<polygon points="1248.00,121.40 1249.97,130.13 1258.70,132.10 1249.97,134.07 1248.00,142.80 1246.03,134.07 1237.30,132.10 1246.03,130.13" fill="#e0185f" stroke="#9a0f3c" stroke-width="1.0" stroke-linejoin="miter" />
<polygon points="1265.60,134.30 1267.57,143.03 1276.30,145.00 1267.57,146.97 1265.60,155.70 1263.63,146.97 1254.90,145.00 1263.63,143.03" fill="#e0185f" stroke="#9a0f3c" stroke-width="1.0" stroke-linejoin="miter" />
<polygon points="1250.00,152.70 1251.97,161.43 1260.70,163.40 1251.97,165.37 1250.00,174.10 1248.03,165.37 1239.30,163.40 1248.03,161.43" fill="#e0185f" stroke="#9a0f3c" stroke-width="1.0" stroke-linejoin="miter" />
<polygon points="1316.30,123.30 1318.27,132.03 1327.00,134.00 1318.27,135.97 1316.30,144.70 1314.33,135.97 1305.60,134.00 1314.33,132.03" fill="#e0185f" stroke="#9a0f3c" stroke-width="1.0" stroke-linejoin="miter" />
<polygon points="1337.00,112.30 1338.97,121.03 1347.70,123.00 1338.97,124.97 1337.00,133.70 1335.03,124.97 1326.30,123.00 1335.03,121.03" fill="#e0185f" stroke="#9a0f3c" stroke-width="1.0" stroke-linejoin="miter" />
<polygon points="1180.00,181.80 1181.97,190.53 1190.70,192.50 1181.97,194.47 1180.00,203.20 1178.03,194.47 1169.30,192.50 1178.03,190.53" fill="#e0185f" stroke="#9a0f3c" stroke-width="1.0" stroke-linejoin="miter" />
<polygon points="1169.50,197.30 1171.47,206.03 1180.20,208.00 1171.47,209.97 1169.50,218.70 1167.53,209.97 1158.80,208.00 1167.53,206.03" fill="#e0185f" stroke="#9a0f3c" stroke-width="1.0" stroke-linejoin="miter" />
<polygon points="1266.00,200.80 1267.97,209.53 1276.70,211.50 1267.97,213.47 1266.00,222.20 1264.03,213.47 1255.30,211.50 1264.03,209.53" fill="#e0185f" stroke="#9a0f3c" stroke-width="1.0" stroke-linejoin="miter" />
<polygon points="1111.70,223.70 1113.67,232.43 1122.40,234.40 1113.67,236.37 1111.70,245.10 1109.73,236.37 1101.00,234.40 1109.73,232.43" fill="#e0185f" stroke="#9a0f3c" stroke-width="1.0" stroke-linejoin="miter" />
<polygon points="1120.50,224.50 1122.47,233.23 1131.20,235.20 1122.47,237.17 1120.50,245.90 1118.53,237.17 1109.80,235.20 1118.53,233.23" fill="#e0185f" stroke="#9a0f3c" stroke-width="1.0" stroke-linejoin="miter" />
<polygon points="1115.40,239.90 1117.37,248.63 1126.10,250.60 1117.37,252.57 1115.40,261.30 1113.43,252.57 1104.70,250.60 1113.43,248.63" fill="#e0185f" stroke="#9a0f3c" stroke-width="1.0" stroke-linejoin="miter" />
<polygon points="1119.00,238.30 1120.97,247.03 1129.70,249.00 1120.97,250.97 1119.00,259.70 1117.03,250.97 1108.30,249.00 1117.03,247.03" fill="#e0185f" stroke="#9a0f3c" stroke-width="1.0" stroke-linejoin="miter" />
<polygon points="1144.10,243.60 1146.07,252.33 1154.80,254.30 1146.07,256.27 1144.10,265.00 1142.13,256.27 1133.40,254.30 1142.13,252.33" fill="#e0185f" stroke="#9a0f3c" stroke-width="1.0" stroke-linejoin="miter" />
<polygon points="1136.80,248.80 1138.77,257.53 1147.50,259.50 1138.77,261.47 1136.80,270.20 1134.83,261.47 1126.10,259.50 1134.83,257.53" fill="#e0185f" stroke="#9a0f3c" stroke-width="1.0" stroke-linejoin="miter" />
<polygon points="1153.00,256.90 1154.97,265.63 1163.70,267.60 1154.97,269.57 1153.00,278.30 1151.03,269.57 1142.30,267.60 1151.03,265.63" fill="#e0185f" stroke="#9a0f3c" stroke-width="1.0" stroke-linejoin="miter" />
<polygon points="1136.00,266.50 1137.97,275.23 1146.70,277.20 1137.97,279.17 1136.00,287.90 1134.03,279.17 1125.30,277.20 1134.03,275.23" fill="#e0185f" stroke="#9a0f3c" stroke-width="1.0" stroke-linejoin="miter" />
<polygon points="1125.90,280.00 1127.87,288.73 1136.60,290.70 1127.87,292.67 1125.90,301.40 1123.93,292.67 1115.20,290.70 1123.93,288.73" fill="#e0185f" stroke="#9a0f3c" stroke-width="1.0" stroke-linejoin="miter" />
<polygon points="1132.50,287.10 1134.47,295.83 1143.20,297.80 1134.47,299.77 1132.50,308.50 1130.53,299.77 1121.80,297.80 1130.53,295.83" fill="#e0185f" stroke="#9a0f3c" stroke-width="1.0" stroke-linejoin="miter" />
<polygon points="1153.70,281.30 1155.67,290.03 1164.40,292.00 1155.67,293.97 1153.70,302.70 1151.73,293.97 1143.00,292.00 1151.73,290.03" fill="#e0185f" stroke="#9a0f3c" stroke-width="1.0" stroke-linejoin="miter" />
<polygon points="1178.40,302.80 1180.37,311.53 1189.10,313.50 1180.37,315.47 1178.40,324.20 1176.43,315.47 1167.70,313.50 1176.43,311.53" fill="#e0185f" stroke="#9a0f3c" stroke-width="1.0" stroke-linejoin="miter" />
<polygon points="1219.10,267.10 1221.07,275.83 1229.80,277.80 1221.07,279.77 1219.10,288.50 1217.13,279.77 1208.40,277.80 1217.13,275.83" fill="#e0185f" stroke="#9a0f3c" stroke-width="1.0" stroke-linejoin="miter" />
<polygon points="1210.70,304.00 1212.67,312.73 1221.40,314.70 1212.67,316.67 1210.70,325.40 1208.73,316.67 1200.00,314.70 1208.73,312.73" fill="#e0185f" stroke="#9a0f3c" stroke-width="1.0" stroke-linejoin="miter" />
<polygon points="1365.50,305.80 1367.47,314.53 1376.20,316.50 1367.47,318.47 1365.50,327.20 1363.53,318.47 1354.80,316.50 1363.53,314.53" fill="#e0185f" stroke="#9a0f3c" stroke-width="1.0" stroke-linejoin="miter" />
<polygon points="1184.00,326.30 1185.97,335.03 1194.70,337.00 1185.97,338.97 1184.00,347.70 1182.03,338.97 1173.30,337.00 1182.03,335.03" fill="#e0185f" stroke="#9a0f3c" stroke-width="1.0" stroke-linejoin="miter" />
<polygon points="1164.10,361.20 1166.07,369.93 1174.80,371.90 1166.07,373.87 1164.10,382.60 1162.13,373.87 1153.40,371.90 1162.13,369.93" fill="#e0185f" stroke="#9a0f3c" stroke-width="1.0" stroke-linejoin="miter" />
<polygon points="1296.60,418.70 1298.57,427.43 1307.30,429.40 1298.57,431.37 1296.60,440.10 1294.63,431.37 1285.90,429.40 1294.63,427.43" fill="#e0185f" stroke="#9a0f3c" stroke-width="1.0" stroke-linejoin="miter" />
<polygon points="1151.90,303.90 1153.87,312.63 1162.60,314.60 1153.87,316.57 1151.90,325.30 1149.93,316.57 1141.20,314.60 1149.93,312.63" fill="#e0185f" stroke="#9a0f3c" stroke-width="1.0" stroke-linejoin="miter" />
<polygon points="1294.70,42.95 1297.64,48.91 1304.21,49.86 1299.46,54.50 1300.58,61.05 1294.70,57.95 1288.82,61.05 1289.94,54.50 1285.19,49.86 1291.76,48.91" fill="#7a5546" stroke="#4a3128" stroke-width="1.1" stroke-linejoin="miter" />
<polygon points="1310.60,111.25 1313.54,117.21 1320.11,118.16 1315.36,122.80 1316.48,129.35 1310.60,126.25 1304.72,129.35 1305.84,122.80 1301.09,118.16 1307.66,117.21" fill="#7a5546" stroke="#4a3128" stroke-width="1.1" stroke-linejoin="miter" />
<polygon points="1361.10,125.96 1364.04,131.91 1370.61,132.86 1365.86,137.50 1366.98,144.05 1361.10,140.96 1355.22,144.05 1356.34,137.50 1351.59,132.86 1358.16,131.91" fill="#7a5546" stroke="#4a3128" stroke-width="1.1" stroke-linejoin="miter" />
<polygon points="1270.20,142.36 1273.14,148.31 1279.71,149.26 1274.96,153.90 1276.08,160.45 1270.20,157.36 1264.32,160.45 1265.44,153.90 1260.69,149.26 1267.26,148.31" fill="#7a5546" stroke="#4a3128" stroke-width="1.1" stroke-linejoin="miter" />
<polygon points="1204.70,217.26 1207.64,223.21 1214.21,224.16 1209.46,228.80 1210.58,235.35 1204.70,232.26 1198.82,235.35 1199.94,228.80 1195.19,224.16 1201.76,223.21" fill="#7a5546" stroke="#4a3128" stroke-width="1.1" stroke-linejoin="miter" />
<polygon points="1268.80,213.76 1271.74,219.71 1278.31,220.66 1273.56,225.30 1274.68,231.85 1268.80,228.76 1262.92,231.85 1264.04,225.30 1259.29,220.66 1265.86,219.71" fill="#7a5546" stroke="#4a3128" stroke-width="1.1" stroke-linejoin="miter" />
<polygon points="1316.10,212.26 1319.04,218.21 1325.61,219.16 1320.86,223.80 1321.98,230.35 1316.10,227.26 1310.22,230.35 1311.34,223.80 1306.59,219.16 1313.16,218.21" fill="#7a5546" stroke="#4a3128" stroke-width="1.1" stroke-linejoin="miter" />
<polygon points="1210.70,265.25 1213.64,271.21 1220.21,272.16 1215.46,276.80 1216.58,283.35 1210.70,280.25 1204.82,283.35 1205.94,276.80 1201.19,272.16 1207.76,271.21" fill="#7a5546" stroke="#4a3128" stroke-width="1.1" stroke-linejoin="miter" />
<polygon points="1233.50,298.95 1236.44,304.91 1243.01,305.86 1238.26,310.50 1239.38,317.05 1233.50,313.95 1227.62,317.05 1228.74,310.50 1223.99,305.86 1230.56,304.91" fill="#7a5546" stroke="#4a3128" stroke-width="1.1" stroke-linejoin="miter" />
<polygon points="1222.70,312.25 1225.64,318.21 1232.21,319.16 1227.46,323.80 1228.58,330.35 1222.70,327.25 1216.82,330.35 1217.94,323.80 1213.19,319.16 1219.76,318.21" fill="#7a5546" stroke="#4a3128" stroke-width="1.1" stroke-linejoin="miter" />
<polygon points="1171.00,281.95 1173.94,287.91 1180.51,288.86 1175.76,293.50 1176.88,300.05 1171.00,296.95 1165.12,300.05 1166.24,293.50 1161.49,288.86 1168.06,287.91" fill="#7a5546" stroke="#4a3128" stroke-width="1.1" stroke-linejoin="miter" />
<polygon points="1121.00,256.95 1123.94,262.91 1130.51,263.86 1125.76,268.50 1126.88,275.05 1121.00,271.95 1115.12,275.05 1116.24,268.50 1111.49,263.86 1118.06,262.91" fill="#7a5546" stroke="#4a3128" stroke-width="1.1" stroke-linejoin="miter" />
<polygon points="1121.50,267.95 1124.44,273.91 1131.01,274.86 1126.26,279.50 1127.38,286.05 1121.50,282.95 1115.62,286.05 1116.74,279.50 1111.99,274.86 1118.56,273.91" fill="#7a5546" stroke="#4a3128" stroke-width="1.1" stroke-linejoin="miter" />
<polygon points="1140.40,257.85 1143.34,263.81 1149.91,264.76 1145.16,269.40 1146.28,275.95 1140.40,272.85 1134.52,275.95 1135.64,269.40 1130.89,264.76 1137.46,263.81" fill="#7a5546" stroke="#4a3128" stroke-width="1.1" stroke-linejoin="miter" />
<polygon points="1154.00,267.95 1156.94,273.91 1163.51,274.86 1158.76,279.50 1159.88,286.05 1154.00,282.95 1148.12,286.05 1149.24,279.50 1144.49,274.86 1151.06,273.91" fill="#7a5546" stroke="#4a3128" stroke-width="1.1" stroke-linejoin="miter" />
<polygon points="1113.40,294.95 1116.34,300.91 1122.91,301.86 1118.16,306.50 1119.28,313.05 1113.40,309.95 1107.52,313.05 1108.64,306.50 1103.89,301.86 1110.46,300.91" fill="#7a5546" stroke="#4a3128" stroke-width="1.1" stroke-linejoin="miter" />
<polygon points="1101.10,309.65 1104.04,315.61 1110.61,316.56 1105.86,321.20 1106.98,327.75 1101.10,324.65 1095.22,327.75 1096.34,321.20 1091.59,316.56 1098.16,315.61" fill="#7a5546" stroke="#4a3128" stroke-width="1.1" stroke-linejoin="miter" />
<polygon points="1124.30,323.45 1127.24,329.41 1133.81,330.36 1129.06,335.00 1130.18,341.55 1124.30,338.45 1118.42,341.55 1119.54,335.00 1114.79,330.36 1121.36,329.41" fill="#7a5546" stroke="#4a3128" stroke-width="1.1" stroke-linejoin="miter" />
<polygon points="1145.50,325.56 1148.44,331.51 1155.01,332.46 1150.26,337.10 1151.38,343.65 1145.50,340.56 1139.62,343.65 1140.74,337.10 1135.99,332.46 1142.56,331.51" fill="#7a5546" stroke="#4a3128" stroke-width="1.1" stroke-linejoin="miter" />
<polygon points="1107.50,351.75 1110.44,357.71 1117.01,358.66 1112.26,363.30 1113.38,369.85 1107.50,366.75 1101.62,369.85 1102.74,363.30 1097.99,358.66 1104.56,357.71" fill="#7a5546" stroke="#4a3128" stroke-width="1.1" stroke-linejoin="miter" />
<polygon points="1163.50,349.95 1166.44,355.91 1173.01,356.86 1168.26,361.50 1169.38,368.05 1163.50,364.95 1157.62,368.05 1158.74,361.50 1153.99,356.86 1160.56,355.91" fill="#7a5546" stroke="#4a3128" stroke-width="1.1" stroke-linejoin="miter" />
<polygon points="1163.00,368.85 1165.94,374.81 1172.51,375.76 1167.76,380.40 1168.88,386.95 1163.00,383.85 1157.12,386.95 1158.24,380.40 1153.49,375.76 1160.06,374.81" fill="#7a5546" stroke="#4a3128" stroke-width="1.1" stroke-linejoin="miter" />
<polygon points="1186.90,398.75 1189.84,404.71 1196.41,405.66 1191.66,410.30 1192.78,416.85 1186.90,413.75 1181.02,416.85 1182.14,410.30 1177.39,405.66 1183.96,404.71" fill="#7a5546" stroke="#4a3128" stroke-width="1.1" stroke-linejoin="miter" />
<polygon points="1213.10,393.95 1216.04,399.91 1222.61,400.86 1217.86,405.50 1218.98,412.05 1213.10,408.95 1207.22,412.05 1208.34,405.50 1203.59,400.86 1210.16,399.91" fill="#7a5546" stroke="#4a3128" stroke-width="1.1" stroke-linejoin="miter" />
<polygon points="1222.70,393.95 1225.64,399.91 1232.21,400.86 1227.46,405.50 1228.58,412.05 1222.70,408.95 1216.82,412.05 1217.94,405.50 1213.19,400.86 1219.76,399.91" fill="#7a5546" stroke="#4a3128" stroke-width="1.1" stroke-linejoin="miter" />
<polygon points="1280.20,386.75 1283.14,392.71 1289.71,393.66 1284.96,398.30 1286.08,404.85 1280.20,401.75 1274.32,404.85 1275.44,398.30 1270.69,393.66 1277.26,392.71" fill="#7a5546" stroke="#4a3128" stroke-width="1.1" stroke-linejoin="miter" />
<polygon points="1323.30,372.35 1326.24,378.31 1332.81,379.26 1328.06,383.90 1329.18,390.45 1323.30,387.35 1317.42,390.45 1318.54,383.90 1313.79,379.26 1320.36,378.31" fill="#7a5546" stroke="#4a3128" stroke-width="1.1" stroke-linejoin="miter" />
<circle cx="980.3" cy="159.6" r="9.00" fill="#76b843" stroke="#4a8a2a" stroke-width="1.5"/>
<circle cx="997.1" cy="154.8" r="9.00" fill="#76b843" stroke="#4a8a2a" stroke-width="1.5"/>
<circle cx="1066.5" cy="189.5" r="9.00" fill="#76b843" stroke="#4a8a2a" stroke-width="1.5"/>
<circle cx="1025.8" cy="203.9" r="9.00" fill="#76b843" stroke="#4a8a2a" stroke-width="1.5"/>
<circle cx="1079.7" cy="211.1" r="9.00" fill="#76b843" stroke="#4a8a2a" stroke-width="1.5"/>
<circle cx="1040.2" cy="223.1" r="9.00" fill="#76b843" stroke="#4a8a2a" stroke-width="1.5"/>
<circle cx="1018.6" cy="229.0" r="9.00" fill="#76b843" stroke="#4a8a2a" stroke-width="1.5"/>
<circle cx="1027.0" cy="220.7" r="9.00" fill="#76b843" stroke="#4a8a2a" stroke-width="1.5"/>
<circle cx="1054.6" cy="235.0" r="9.00" fill="#76b843" stroke="#4a8a2a" stroke-width="1.5"/>
<circle cx="1067.7" cy="232.6" r="9.00" fill="#76b843" stroke="#4a8a2a" stroke-width="1.5"/>
<circle cx="1074.9" cy="233.8" r="9.00" fill="#76b843" stroke="#4a8a2a" stroke-width="1.5"/>
<circle cx="1080.9" cy="227.8" r="9.00" fill="#76b843" stroke="#4a8a2a" stroke-width="1.5"/>
<circle cx="1022.2" cy="248.2" r="9.00" fill="#76b843" stroke="#4a8a2a" stroke-width="1.5"/>
<circle cx="1090.5" cy="251.8" r="9.00" fill="#76b843" stroke="#4a8a2a" stroke-width="1.5"/>
<circle cx="1137.7" cy="202.1" r="9.00" fill="#76b843" stroke="#4a8a2a" stroke-width="1.5"/>
<circle cx="1054.6" cy="263.6" r="9.00" fill="#76b843" stroke="#4a8a2a" stroke-width="1.5"/>
<circle cx="1072.5" cy="261.5" r="9.00" fill="#76b843" stroke="#4a8a2a" stroke-width="1.5"/>
<circle cx="1047.4" cy="271.8" r="9.00" fill="#76b843" stroke="#4a8a2a" stroke-width="1.5"/>
<circle cx="1041.4" cy="283.3" r="9.00" fill="#76b843" stroke="#4a8a2a" stroke-width="1.5"/>
<circle cx="1054.6" cy="287.3" r="9.00" fill="#76b843" stroke="#4a8a2a" stroke-width="1.5"/>
<circle cx="1072.5" cy="277.8" r="9.00" fill="#76b843" stroke="#4a8a2a" stroke-width="1.5"/>
<circle cx="1085.7" cy="279.0" r="9.00" fill="#76b843" stroke="#4a8a2a" stroke-width="1.5"/>
<circle cx="1086.9" cy="299.3" r="9.00" fill="#76b843" stroke="#4a8a2a" stroke-width="1.5"/>
<circle cx="1061.3" cy="328.1" r="9.00" fill="#76b843" stroke="#4a8a2a" stroke-width="1.5"/>
<circle cx="1106.2" cy="352.8" r="9.00" fill="#76b843" stroke="#4a8a2a" stroke-width="1.5"/>
<circle cx="1121.0" cy="348.5" r="9.00" fill="#76b843" stroke="#4a8a2a" stroke-width="1.5"/>
<circle cx="1122.2" cy="377.4" r="9.00" fill="#76b843" stroke="#4a8a2a" stroke-width="1.5"/>
<circle cx="1110.5" cy="384.7" r="9.00" fill="#76b843" stroke="#4a8a2a" stroke-width="1.5"/>
<circle cx="1143.0" cy="294.0" r="9.00" fill="#76b843" stroke="#4a8a2a" stroke-width="1.5"/>
<circle cx="1146.0" cy="302.8" r="9.00" fill="#76b843" stroke="#4a8a2a" stroke-width="1.5"/>
<circle cx="1160.7" cy="302.8" r="9.00" fill="#76b843" stroke="#4a8a2a" stroke-width="1.5"/>
<circle cx="1138.6" cy="321.2" r="9.00" fill="#76b843" stroke="#4a8a2a" stroke-width="1.5"/>
<circle cx="1157.0" cy="327.1" r="9.00" fill="#76b843" stroke="#4a8a2a" stroke-width="1.5"/>
<rect x="1448.2" y="12.5" width="16.0" height="16.0" fill="#3b4fbd" stroke="#1f2b7e" stroke-width="1.3"/>
<polygon points="1456.20,45.70 1463.69,50.40 1463.69,59.80 1456.20,64.50 1448.71,59.80 1448.71,50.40" fill="#ff9a00" stroke="#c0650a" stroke-width="1.2" stroke-linejoin="miter" />
<polygon points="1456.20,77.20 1458.37,86.83 1468.00,89.00 1458.37,91.17 1456.20,100.80 1454.03,91.17 1444.40,89.00 1454.03,86.83" fill="#e0185f" stroke="#9a0f3c" stroke-width="1.0" stroke-linejoin="miter" />
<polygon points="1456.20,113.21 1459.32,119.52 1466.28,120.54 1461.24,125.45 1462.43,132.39 1456.20,129.11 1449.97,132.39 1451.16,125.45 1446.12,120.54 1453.08,119.52" fill="#7a5546" stroke="#4a3128" stroke-width="1.1" stroke-linejoin="miter" />
<circle cx="1456.2" cy="156.6" r="9.20" fill="#76b843" stroke="#4a8a2a" stroke-width="1.5"/>
<text x="1474.5" y="30.8" font-size="29" text-anchor="start" font-family="'Liberation Serif', 'Times New Roman', serif" font-weight="bold" fill="#000" >QC</text>
<text x="1474.5" y="64.8" font-size="29" text-anchor="start" font-family="'Liberation Serif', 'Times New Roman', serif" font-weight="bold" fill="#000" >C</text>
<text x="1474.5" y="98.8" font-size="29" text-anchor="start" font-family="'Liberation Serif', 'Times New Roman', serif" font-weight="bold" fill="#000" >D</text>
<text x="1474.5" y="132.8" font-size="29" text-anchor="start" font-family="'Liberation Serif', 'Times New Roman', serif" font-weight="bold" fill="#000" >F</text>
<text x="1474.5" y="166.4" font-size="29" text-anchor="start" font-family="'Liberation Serif', 'Times New Roman', serif" font-weight="bold" fill="#000" >G</text>
</svg>
</body></html>
